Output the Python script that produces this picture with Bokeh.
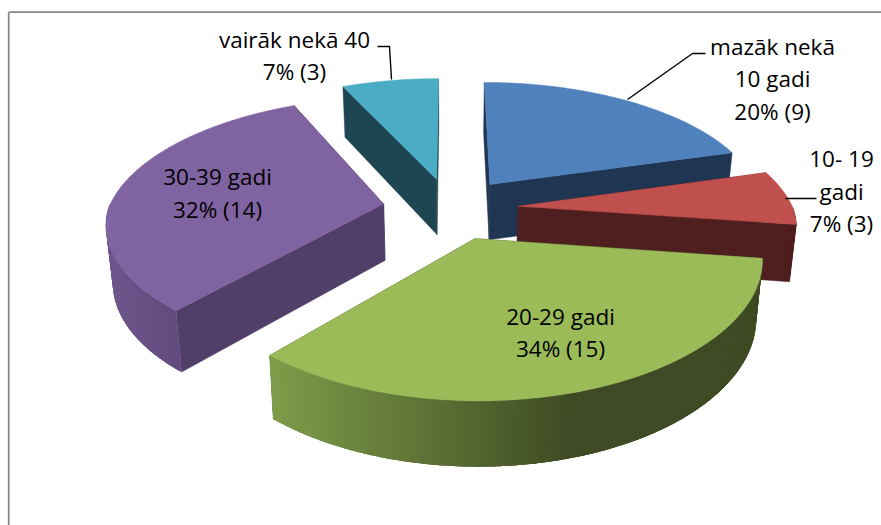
import math
from bokeh.plotting import figure
from bokeh.models import Range1d
from bokeh.core.properties import value
from bokeh.embed import file_html
from bokeh.resources import INLINE

# ---- data
categories = ["mazāk nekā 10 gadi", "10- 19 gadi", "20-29 gadi", "30-39 gadi", "vairāk nekā 40"]
counts = [9, 3, 15, 14, 3]

label_lines = ["mazāk nekā", "10 gadi", "20% (9)",
               "10- 19", "gadi", "7% (3)",
               "20-29 gadi", "34% (15)",
               "30-39 gadi", "32% (14)",
               "vairāk nekā 40", "7% (3)"]
label_x = [772, 772, 772, 841, 841, 841, 560, 560, 217, 217, 294, 294]
label_y = [45.5, 77.5, 110.5, 157.5, 190.5, 222.5, 315.5, 347.5, 175.5, 208.5, 38.5, 70.5]

# ---- styles
top_colors = ["#4F81BD", "#C0504D", "#9BBB59", "#8064A2", "#4BACC6"]
wall_colors = ["#1F3552", "#4F1F1F", "#3F4B24", "#503F68", "#1E4552"]
# rim shading: x start, colour, x end, colour
rim_shades = [
    (0, (31, 53, 82), 1, (31, 53, 82)),
    (0, (79, 31, 31), 1, (79, 31, 31)),
    (270, (126, 156, 73), 570, (63, 75, 36)),
    (108, (110, 86, 140), 180, (96, 74, 124)),
    (0, (30, 69, 82), 1, (30, 69, 82)),
]
draw_order = [4, 0, 3, 1, 2]

# ---- projection of the tilted, exploded pie
X0, Y0, RX, RY, K, EXPLODE = 450.0, 208.0, 275.0, 125.4, 0.16, 0.247
KX_FRONT, KX_BACK = 0.137, 0.17


def project(px, py):
    s = 1.0 / (1.0 + K * py)
    sx = 1.0 / (1.0 + (KX_BACK if py > 0 else KX_FRONT) * py)
    return X0 + RX * px * sx, Y0 - RY * py * s, s


def drop(x, y, s):
    return x - (x - X0) * 0.02, y + 56.5 + (s - 1.0) * 38.0


def to_hex(c):
    return "#%02x%02x%02x" % tuple(int(round(v)) for v in c)


def shade(spec, x):
    x0, c0, x1, c1 = spec
    f = min(1.0, max(0.0, (x - x0) / (x1 - x0)))
    return to_hex([a + (b - a) * f for a, b in zip(c0, c1)])


p = figure(width=881, height=525, output_backend="svg", toolbar_location=None,
           x_range=Range1d(0, 881), y_range=Range1d(525, 0),
           min_border=0, outline_line_color=None, background_fill_color="white")
p.axis.visible = False
p.grid.visible = False

# frame
p.line([8.2, 8.2], [525, 11.7], line_color="#868686", line_width=1.7)
p.line([8.2, 881], [11.7, 11.7], line_color="#868686", line_width=1.7)

total = sum(counts)
edges = [0.0]
for c in counts:
    edges.append(edges[-1] + c / total * 360.0)

for i in draw_order:
    a0, a1 = edges[i], edges[i + 1]
    mid = math.radians((a0 + a1) / 2)
    cx, cy = EXPLODE * math.sin(mid), EXPLODE * math.cos(mid)
    n = max(2, int((a1 - a0) * 2))
    angles = [a0 + (a1 - a0) * j / n for j in range(n + 1)]
    tops = []
    for a in angles:
        r = math.radians(a)
        tops.append(project(cx + math.sin(r), cy + math.cos(r)))
    ax, ay, asc = project(cx, cy)
    abx, aby = drop(ax, ay, asc)

    # radial walls
    for t in (tops[0], tops[-1]):
        bx, by = drop(*t)
        p.patch([ax, t[0], bx, abx], [ay, t[1], by, aby],
                fill_color=wall_colors[i], line_color=wall_colors[i], line_width=0.5)

    # outer rim, as overlapping narrow strips for its gradient
    for j in range(n):
        mida = (angles[j] + angles[j + 1]) / 2
        if math.cos(math.radians(mida)) >= 0:
            continue
        idx = list(range(j, min(j + 4, n + 1)))
        upper = [tops[q] for q in idx]
        lower = [drop(*tops[q]) for q in reversed(idx)]
        col = shade(rim_shades[i], (tops[j][0] + tops[j + 1][0]) / 2)
        p.patch([u[0] for u in upper] + [b[0] for b in lower],
                [u[1] for u in upper] + [b[1] for b in lower],
                fill_color=col, line_color=None)

    # top face
    p.patch([ax] + [t[0] for t in tops], [ay] + [t[1] for t in tops],
            fill_color=top_colors[i], line_color=top_colors[i], line_width=0.5)

# leader lines
p.line([627, 692, 705], [99, 53, 53], line_color="#000000", line_width=1.4)
p.line([785, 816], [198, 198], line_color="#000000", line_width=1.4)
p.line([391, 389, 377], [79, 46, 46], line_color="#000000", line_width=1.4)

p.text(label_x, label_y, text=label_lines, text_font=value("Open Sans"),
       text_font_size="22.5px", text_align="center", text_baseline="middle",
       text_color="#000000")

open("out.html", "w").write(file_html(p, INLINE))
